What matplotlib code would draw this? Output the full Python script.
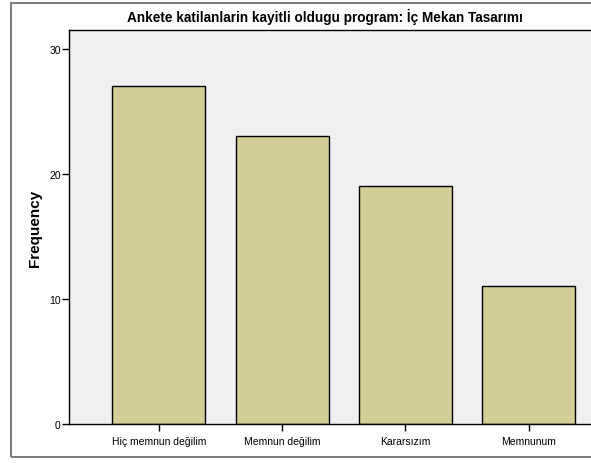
import matplotlib
matplotlib.use('Agg')
import matplotlib.pyplot as plt
import matplotlib.patches as patches

plt.rcParams['font.family'] = ['Liberation Sans', 'DejaVu Sans']

# data
categories = ['Hiç memnun değilim', 'Memnun değilim', 'Kararsızım', 'Memnunum']
counts = [27, 23, 19, 11]
yticks = [0, 10, 20, 30]
title = 'Ankete katilanlarin kayitli oldugu program: İç Mekan Tasarımı'

W, H = 591, 464
fig = plt.figure(figsize=(W / 100, H / 100), dpi=100)
fig.patch.set_facecolor('white')

# outer frame (right edge cut off in the reference)
frame = patches.Rectangle((11 / W, 1 - 458 / H), 1.2, (458 - 4) / H,
                          transform=fig.transFigure, fill=False,
                          edgecolor='#7a7a7a', linewidth=1.4)
fig.patches.append(frame)

ax = fig.add_axes([69 / W, 1 - 425 / H, 1 - 69 / W + 0.02, (425 - 31) / H])
ax.set_facecolor('#f0f0f0')

x = list(range(len(categories)))
ax.bar(x, counts, width=0.756, color='#d3ce97', edgecolor='black', linewidth=1.0, zorder=2)

ax.set_xlim(-0.728, 3.6)
ax.set_ylim(0, 31.5)
ax.set_yticks(yticks)
ax.set_xticks(x)
ax.set_xticklabels(categories, fontsize=7.5)
ax.tick_params(axis='y', labelsize=7.5, length=5, width=1, pad=1)
ax.tick_params(axis='x', length=5, width=1, pad=4)

for s in ['left', 'bottom', 'top']:
    ax.spines[s].set_linewidth(1.0)
    ax.spines[s].set_color('black')
ax.spines['right'].set_visible(False)

ax.set_ylabel('Frequency', fontsize=11, fontweight='bold', labelpad=5)

fig.text(325 / W, 1 - 17 / H, title, ha='center', va='center',
         fontsize=9.8, fontweight='bold')

fig.savefig('out.png', dpi=100)
